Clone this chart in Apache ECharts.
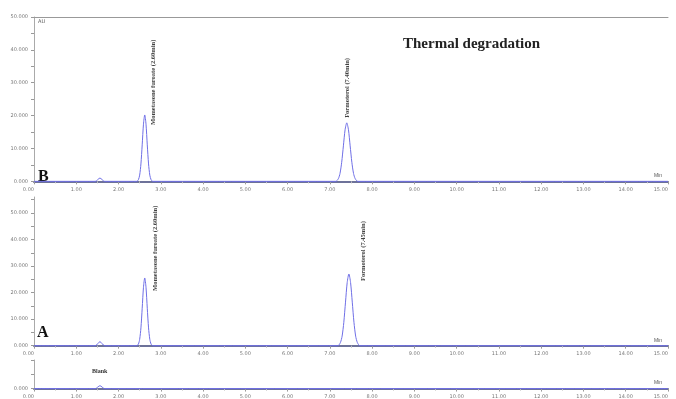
<!DOCTYPE html>
<html><head><meta charset="utf-8">
<script src="https://cdn.jsdelivr.net/npm/echarts@6/dist/echarts.min.js"></script>
<style>html,body{margin:0;padding:0;background:#fff}#c{width:676px;height:399px}</style>
</head><body><div id="c"></div>
<script>
// ---- data ----
const title = 'Thermal degradation';
const yLabelValues = [0,10,20,30,40,50];
const peakNames = ['Mometasone furoate (2.60min)', 'Formoterol (7.40min)'];
const peakNamesA = ['Mometasone furoate (2.60min)', 'Formoterol (7.45min)'];

const timesB  = [0, 1.45, 1.56, 1.67,
  2.43, 2.47, 2.50, 2.53, 2.56, 2.59, 2.62, 2.65, 2.68, 2.71, 2.74, 2.77, 2.81,
  7.14, 7.20, 7.24, 7.28, 7.32, 7.36, 7.40, 7.44, 7.48, 7.52, 7.56, 7.60, 7.66, 15];
const valuesB = [0, 0, 1.0, 0,
  0, 0.5, 1.9, 5.3, 11.1, 17.4, 20.2, 17.4, 11.1, 5.3, 1.9, 0.5, 0,
  0, 0.8, 2.4, 5.8, 10.8, 15.7, 17.8, 15.7, 10.8, 5.8, 2.4, 0.8, 0, 0];
const peakTimesB = [2.62, 7.40];
const peakHeightsB = [20.2, 17.8];

const timesA  = [0, 1.45, 1.56, 1.67,
  2.43, 2.47, 2.50, 2.53, 2.56, 2.59, 2.62, 2.65, 2.68, 2.71, 2.74, 2.77, 2.81,
  7.19, 7.25, 7.29, 7.33, 7.37, 7.41, 7.45, 7.49, 7.53, 7.57, 7.61, 7.65, 7.71, 15];
const valuesA = [0, 0, 1.5, 0,
  0, 0.6, 2.4, 6.7, 14.1, 22.0, 25.5, 22.0, 14.1, 6.7, 2.4, 0.6, 0,
  0, 1.2, 3.6, 8.8, 16.4, 23.8, 27.0, 23.8, 16.4, 8.8, 3.6, 1.2, 0, 0];
const peakTimesA = [2.62, 7.45];
const peakHeightsA = [25.5, 27.0];

const timesBlank  = [0, 1.45, 1.56, 1.67, 15];
const valuesBlank = [0, 0, 1.0, 0, 0];

// ---- styles ----
const lineColor = '#6f6fe6';
const axisColor = '#6d7299';
const tickText = {fontSize: 5, color: '#777', fontFamily: 'DejaVu Sans'};

function pairs(t, v){ return t.map((x,i)=>[x, v[i]]); }

function xAxisFor(gi){
  return {
    type: 'value', gridIndex: gi, min: 0, max: 15, interval: 1,
    name: 'Min', nameLocation: 'end', nameGap: -14,
    nameTextStyle: {fontSize: 5, color: '#555', verticalAlign: 'bottom', padding: [0,0,3,0]},
    axisLine: {show: true, lineStyle: {color: axisColor, width: 2}},
    axisTick: {show: true, length: 3, lineStyle: {color: '#999'}},
    minorTick: {show: true, splitNumber: 2, length: 2, lineStyle: {color: '#bbb'}},
    axisLabel: Object.assign({formatter: v => v.toFixed(2), margin: 4, alignMinLabel: 'right', alignMaxLabel: 'right'}, tickText),
    splitLine: {show: false}
  };
}
function yAxisFor(gi, max, labels, ticks){
  return {
    type: 'value', gridIndex: gi, min: -0.5, max: max,
    axisLine: {show: true, lineStyle: {color: '#aaa', width: 1}},
    axisTick: {show: true, length: 3, lineStyle: {color: '#999'}, customValues: ticks},
    axisLabel: Object.assign({formatter: v => v.toFixed(3), margin: 6, customValues: labels}, tickText),
    splitLine: {show: false}
  };
}
function lineSeries(gi, t, v){
  return {type: 'line', xAxisIndex: gi, yAxisIndex: gi, data: pairs(t, v), showSymbol: false,
    smooth: 0.25, lineStyle: {color: lineColor, width: 1}, z: 1, animation: false};
}
function peakSeries(gi, times, heights, names, offsets){
  return {type: 'scatter', xAxisIndex: gi, yAxisIndex: gi, symbolSize: 0, animation: false,
    data: times.map((t,i)=>({value: [t, heights[i]], name: names[i],
      label: {show: true, formatter: '{b}', rotate: 90, align: 'left', verticalAlign: 'middle',
        position: offsets[i], fontSize: 6.5, fontWeight: 'bold', color: '#111', fontFamily: 'Liberation Serif'}}))};
}

const tickVals = [0,5,10,15,20,25,30,35,40,45,50,55];
const option = {
  animation: false,
  grid: [
    {left: 34, right: 8, top: 17, height: 166},
    {left: 34, right: 8, top: 197, height: 150},
    {left: 34, right: 8, top: 360, height: 30}
  ],
  xAxis: [
    xAxisFor(0), xAxisFor(1), xAxisFor(2),
    {type: 'value', gridIndex: 0, position: 'top', min: 0, max: 15,
     axisLine: {show: true, lineStyle: {color: '#999', width: 1}}, axisTick: {show: false},
     axisLabel: {show: false}, splitLine: {show: false}}
  ],
  yAxis: [
    yAxisFor(0, 50, yLabelValues, tickVals.filter(v=>v<=50)),
    yAxisFor(1, 56, yLabelValues, tickVals.filter(v=>v<=55)),
    yAxisFor(2, 10, [0], [0,5,10])
  ],
  series: [
    lineSeries(0, timesB, valuesB),
    lineSeries(1, timesA, valuesA),
    lineSeries(2, timesBlank, valuesBlank),
    peakSeries(0, peakTimesB, peakHeightsB, peakNames, [[9, 10], [1, -5]]),
    peakSeries(1, peakTimesA, peakHeightsA, peakNamesA, [[11, 13], [14, 7]])
  ],
  graphic: [
    {type: 'text', left: 403, top: 37, style: {text: title, font: 'bold 15px "Liberation Serif"', fill: '#222'}},
    {type: 'text', left: 38, top: 169, style: {text: 'B', font: 'bold 16px "Liberation Serif"', fill: '#111'}},
    {type: 'text', left: 37, top: 325, style: {text: 'A', font: 'bold 16px "Liberation Serif"', fill: '#111'}},
    {type: 'text', left: 92, top: 368, style: {text: 'Blank', font: 'bold 6px "Liberation Serif"', fill: '#333'}},
    {type: 'text', left: 38, top: 19, style: {text: 'AU', font: '5px "DejaVu Sans"', fill: '#555'}}
  ]
};
echarts.init(document.getElementById('c')).setOption(option);
</script></body></html>
